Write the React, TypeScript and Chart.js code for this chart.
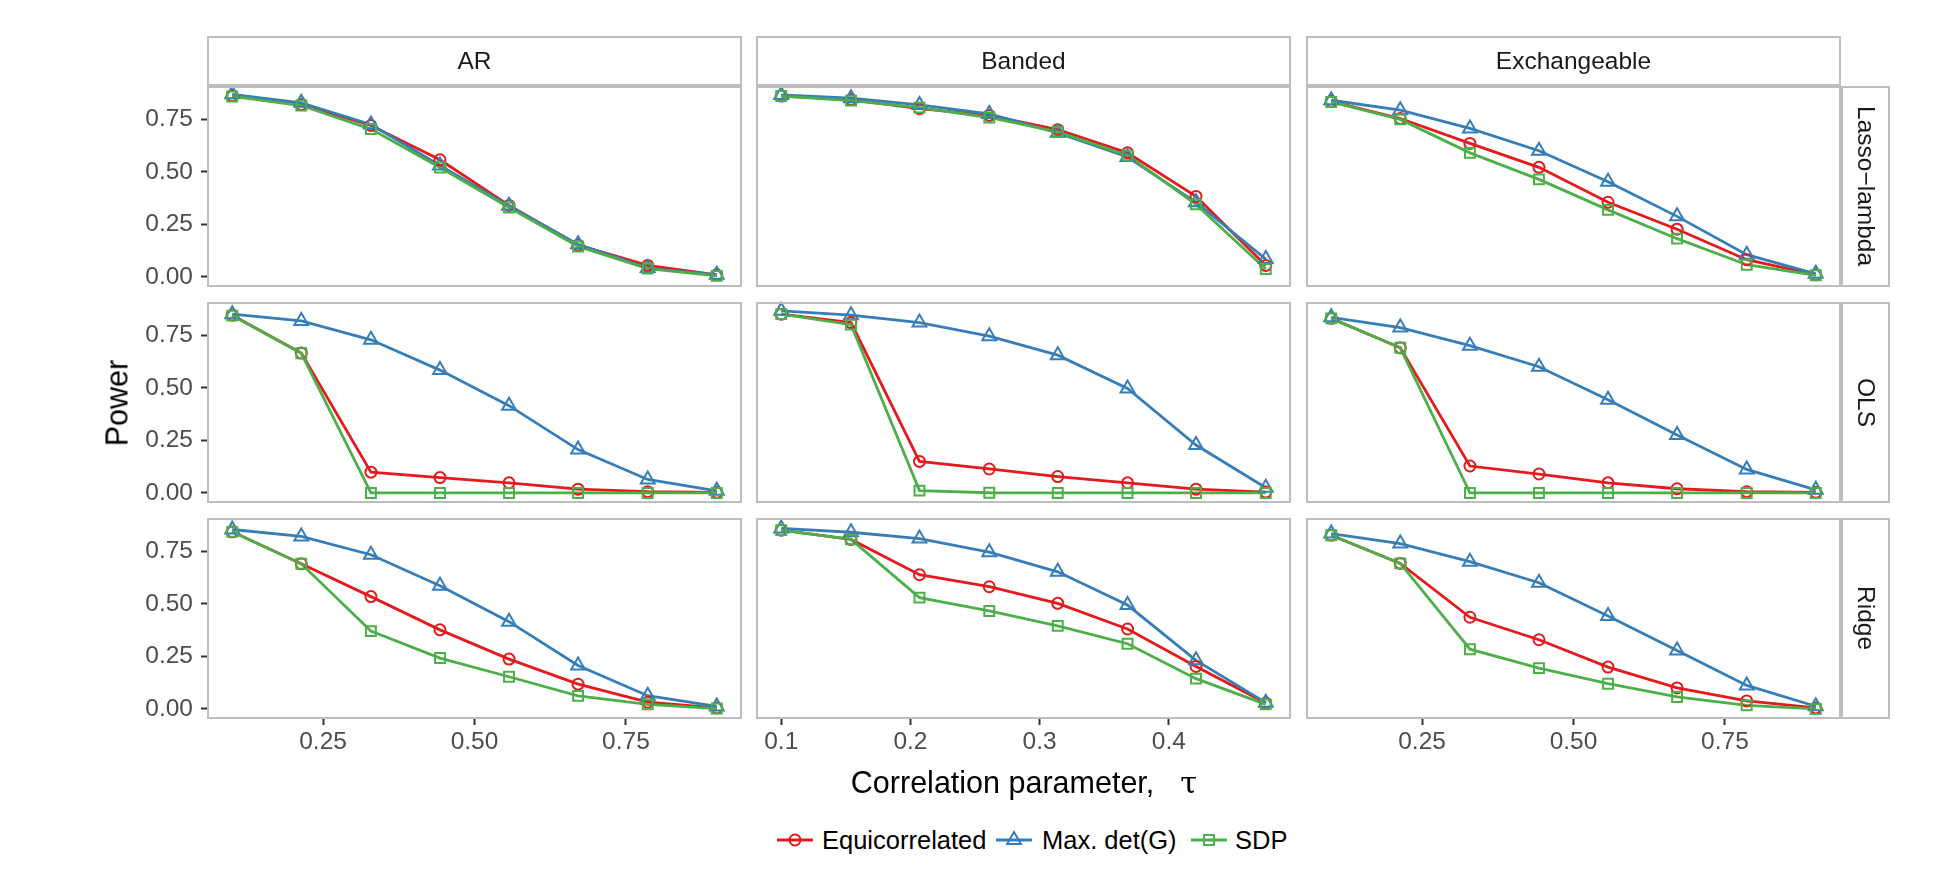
import React, { useEffect, useRef } from "react";
import { Chart, registerables } from "chart.js";
Chart.register(...registerables);

// ---------- data ----------
const tauGrid = [0.1, 0.214, 0.329, 0.443, 0.557, 0.671, 0.786, 0.9];
const tauBanded = [0.1, 0.154, 0.207, 0.261, 0.314, 0.368, 0.421, 0.475];
const gridTicks = [0.25, 0.5, 0.75];
const bandedTicks = [0.1, 0.2, 0.3, 0.4];
const powerTicks = [0, 0.25, 0.5, 0.75];

const structures = ["AR", "Banded", "Exchangeable"];
const methods = ["Lasso\u2212lambda", "OLS", "Ridge"];
const seriesNames = ["Equicorrelated", "Max. det(G)", "SDP"];

// Lasso-lambda
const lassoAR_equi = [0.862, 0.82, 0.72, 0.557, 0.34, 0.152, 0.055, 0.01];
const lassoAR_maxdet = [0.868, 0.828, 0.725, 0.53, 0.338, 0.155, 0.042, 0.01];
const lassoAR_sdp = [0.858, 0.815, 0.703, 0.52, 0.33, 0.145, 0.04, 0.005];
const lassoBanded_equi = [0.86, 0.843, 0.8, 0.768, 0.7, 0.59, 0.383, 0.055];
const lassoBanded_maxdet = [0.865, 0.85, 0.818, 0.775, 0.685, 0.57, 0.355, 0.085];
const lassoBanded_sdp = [0.86, 0.838, 0.805, 0.758, 0.69, 0.578, 0.345, 0.038];
const lassoExch_equi = [0.835, 0.753, 0.635, 0.521, 0.355, 0.227, 0.082, 0.01];
const lassoExch_maxdet = [0.84, 0.793, 0.706, 0.6, 0.453, 0.288, 0.106, 0.015];
const lassoExch_sdp = [0.832, 0.749, 0.59, 0.464, 0.319, 0.182, 0.058, 0.008];

// OLS
const olsAR_equi = [0.845, 0.665, 0.099, 0.073, 0.048, 0.018, 0.006, 0.003];
const olsAR_maxdet = [0.85, 0.818, 0.728, 0.584, 0.415, 0.206, 0.064, 0.01];
const olsAR_sdp = [0.843, 0.664, 0, 0, 0, 0, 0, 0];
const olsBanded_equi = [0.85, 0.81, 0.15, 0.114, 0.078, 0.048, 0.018, 0.004];
const olsBanded_maxdet = [0.866, 0.845, 0.81, 0.745, 0.655, 0.497, 0.228, 0.025];
const olsBanded_sdp = [0.85, 0.8, 0.011, 0.001, 0, 0, 0, 0];
const olsExch_equi = [0.83, 0.69, 0.128, 0.09, 0.048, 0.02, 0.006, 0.003];
const olsExch_maxdet = [0.835, 0.786, 0.7, 0.6, 0.443, 0.276, 0.112, 0.015];
const olsExch_sdp = [0.83, 0.69, 0, 0, 0, 0, 0, 0];

// Ridge
const ridgeAR_equi = [0.842, 0.69, 0.534, 0.376, 0.237, 0.118, 0.032, 0.005];
const ridgeAR_maxdet = [0.853, 0.82, 0.733, 0.586, 0.415, 0.207, 0.063, 0.012];
const ridgeAR_sdp = [0.842, 0.69, 0.37, 0.242, 0.153, 0.062, 0.022, 0.002];
const ridgeBanded_equi = [0.85, 0.806, 0.638, 0.581, 0.502, 0.38, 0.202, 0.028];
const ridgeBanded_maxdet = [0.858, 0.84, 0.81, 0.745, 0.652, 0.494, 0.231, 0.03];
const ridgeBanded_sdp = [0.85, 0.806, 0.529, 0.466, 0.395, 0.31, 0.144, 0.022];
const ridgeExch_equi = [0.826, 0.692, 0.436, 0.329, 0.199, 0.1, 0.038, 0.005];
const ridgeExch_maxdet = [0.834, 0.786, 0.7, 0.6, 0.442, 0.278, 0.112, 0.013];
const ridgeExch_sdp = [0.826, 0.692, 0.284, 0.194, 0.12, 0.057, 0.017, 0.0];

const panelSeries = [
  [
    [lassoAR_equi, lassoAR_maxdet, lassoAR_sdp],
    [lassoBanded_equi, lassoBanded_maxdet, lassoBanded_sdp],
    [lassoExch_equi, lassoExch_maxdet, lassoExch_sdp],
  ],
  [
    [olsAR_equi, olsAR_maxdet, olsAR_sdp],
    [olsBanded_equi, olsBanded_maxdet, olsBanded_sdp],
    [olsExch_equi, olsExch_maxdet, olsExch_sdp],
  ],
  [
    [ridgeAR_equi, ridgeAR_maxdet, ridgeAR_sdp],
    [ridgeBanded_equi, ridgeBanded_maxdet, ridgeBanded_sdp],
    [ridgeExch_equi, ridgeExch_maxdet, ridgeExch_sdp],
  ],
];

// ---------- styling / layout ----------
const FONT = '"Liberation Sans", Arial, Helvetica, sans-serif';
const COLORS = ["#E41A1C", "#377EB8", "#4DAF4A"];
const STYLES = ["circle", "triangle", "rect"];
const RADII = [5.5, 8, 7];
const LINE_W = 2.8;
const BORDER = "#BEBEBE";

const PANEL_LEFT = [208, 757, 1307];
const PANEL_W = 533;
const PANEL_TOP = [87, 303, 519];
const PANEL_H = 199;
const Y_AXIS_W = 96;
const X_AXIS_H = 46;
const PAD = 16;
const Y_MIN = -0.043;
const Y_MAX = 0.903;

const LEGEND_KEY_X = [777, 996, 1191];
const LEGEND_TEXT_X = [822, 1042, 1235];
const LEGEND_Y = 840;

const borderPlugin = {
  id: "panelBorder",
  afterDraw(chart: any) {
    const { ctx, chartArea: a } = chart;
    ctx.save();
    ctx.strokeStyle = BORDER;
    ctx.lineWidth = 2;
    ctx.strokeRect(a.left, a.top, a.right - a.left, a.bottom - a.top);
    ctx.restore();
  },
};

function Panel({ row, col }: { row: number; col: number }) {
  const ref = useRef<HTMLCanvasElement | null>(null);
  const hasY = col === 0;
  const hasX = row === 2;
  const left = PANEL_LEFT[col] - PAD - (hasY ? Y_AXIS_W : 0);
  const top = PANEL_TOP[row] - PAD;
  const width = PAD + (hasY ? Y_AXIS_W : 0) + PANEL_W + PAD;
  const height = PAD + PANEL_H + (hasX ? X_AXIS_H : 0) + PAD;

  useEffect(() => {
    if (!ref.current) return;
    const banded = col === 1;
    const xs = banded ? tauBanded : tauGrid;
    const xTicks = banded ? bandedTicks : gridTicks;
    const xMin = banded ? 0.08125 : 0.06;
    const xMax = banded ? 0.49375 : 0.94;
    const dec = banded ? 1 : 2;
    const series = panelSeries[row][col];

    const datasets: any[] = [];
    series.forEach((ys, s) => {
      const data = xs.map((x, i) => ({ x, y: ys[i] }));
      datasets.push({
        label: seriesNames[s] + " line",
        data,
        showLine: true,
        borderColor: COLORS[s],
        borderWidth: LINE_W,
        pointRadius: 0,
        fill: false,
        clip: false,
        order: 5 - s,
      });
      datasets.push({
        label: seriesNames[s],
        data,
        showLine: false,
        pointStyle: STYLES[s],
        pointRadius: RADII[s],
        pointBorderColor: COLORS[s],
        pointBackgroundColor: "rgba(0,0,0,0)",
        pointBorderWidth: 2,
        clip: false,
        order: 2 - s,
      });
    });

    const tickFont = { family: FONT, size: 24.5 };
    const chart = new Chart(ref.current, {
      type: "line",
      data: { datasets },
      plugins: [borderPlugin],
      options: {
        responsive: false,
        animation: false,
        events: [],
        layout: { padding: PAD },
        plugins: { legend: { display: false }, tooltip: { enabled: false } },
        scales: {
          x: {
            type: "linear",
            display: hasX,
            min: xMin,
            max: xMax,
            afterBuildTicks: (s: any) => {
              s.ticks = xTicks.map((v) => ({ value: v }));
            },
            afterFit: (s: any) => {
              if (hasX) s.height = X_AXIS_H;
              s.paddingLeft = 0;
              s.paddingRight = 0;
            },
            ticks: {
              callback: (v: any) => Number(v).toFixed(dec),
              color: "#4D4D4D",
              font: tickFont,
              padding: 3,
              maxRotation: 0,
              autoSkip: false,
            },
            grid: {
              drawOnChartArea: false,
              drawTicks: true,
              tickLength: 7,
              tickColor: "#333333",
              tickWidth: 2,
            },
            border: { display: false },
          },
          y: {
            type: "linear",
            display: hasY,
            min: Y_MIN,
            max: Y_MAX,
            afterBuildTicks: (s: any) => {
              s.ticks = powerTicks.map((v) => ({ value: v }));
            },
            afterFit: (s: any) => {
              if (hasY) s.width = Y_AXIS_W;
              s.paddingTop = 0;
              s.paddingBottom = 0;
            },
            ticks: {
              callback: (v: any) => Number(v).toFixed(2),
              color: "#4D4D4D",
              font: tickFont,
              padding: 8,
              autoSkip: false,
            },
            grid: {
              drawOnChartArea: false,
              drawTicks: true,
              tickLength: 7,
              tickColor: "#333333",
              tickWidth: 2,
            },
            border: { display: false },
          },
        },
      } as any,
    });
    return () => chart.destroy();
  }, [row, col]);

  return (
    <canvas
      ref={ref}
      width={width}
      height={height}
      style={{ position: "absolute", left, top, width, height }}
    />
  );
}

function LegendKey({ s }: { s: number }) {
  const c = COLORS[s];
  let marker: any;
  if (s === 0) marker = <circle cx={18} cy={12} r={5.5} fill="none" stroke={c} strokeWidth={2} />;
  else if (s === 1)
    marker = (
      <polygon
        points={`18,${12 - 8} ${18 + 6.93},${12 + 4} ${18 - 6.93},${12 + 4}`}
        fill="none"
        stroke={c}
        strokeWidth={2}
      />
    );
  else marker = <rect x={13} y={7} width={10} height={10} fill="none" stroke={c} strokeWidth={2} />;
  return (
    <svg width={36} height={24} style={{ display: "block" }}>
      <line x1={0} y1={12} x2={36} y2={12} stroke={c} strokeWidth={LINE_W} />
      {marker}
    </svg>
  );
}

export default function App() {
  useEffect(() => {
    document.body.style.margin = "0";
  }, []);

  const panels: any[] = [];
  for (let r = 0; r < 3; r++) for (let c = 0; c < 3; c++) panels.push(<Panel key={`p${r}${c}`} row={r} col={c} />);

  return (
    <div
      style={{
        position: "relative",
        width: 1960,
        height: 891,
        background: "#fff",
        overflow: "hidden",
        fontFamily: FONT,
      }}
    >
      {panels}
      {structures.map((name, c) => (
        <div
          key={name}
          style={{
            position: "absolute",
            left: PANEL_LEFT[c] - 1,
            top: 36.3,
            width: PANEL_W + 2,
            height: 50,
            boxSizing: "border-box",
            border: `2px solid ${BORDER}`,
            display: "flex",
            alignItems: "center",
            justifyContent: "center",
            fontSize: 24.5,
            color: "#1A1A1A",
          }}
        >
          {name}
        </div>
      ))}
      {methods.map((name, r) => (
        <div
          key={name}
          style={{
            position: "absolute",
            left: 1841,
            top: PANEL_TOP[r] - 1,
            width: 49,
            height: PANEL_H + 2,
            boxSizing: "border-box",
            border: `2px solid ${BORDER}`,
            display: "flex",
            alignItems: "center",
            justifyContent: "center",
            fontSize: 24.5,
            color: "#1A1A1A",
          }}
        >
          <span style={{ writingMode: "vertical-rl", whiteSpace: "nowrap" }}>{name}</span>
        </div>
      ))}
      <div
        style={{
          position: "absolute",
          left: 117,
          top: 402.5,
          transform: "translate(-50%, -50%) rotate(-90deg)",
          fontSize: 30.5,
          color: "#000",
          whiteSpace: "nowrap",
        }}
      >
        Power
      </div>
      <div
        style={{
          position: "absolute",
          left: 1024,
          top: 782,
          transform: "translate(-50%, -50%)",
          fontSize: 30.5,
          color: "#000",
          whiteSpace: "nowrap",
          display: "flex",
          alignItems: "baseline",
        }}
      >
        <span>Correlation parameter,</span>
        <span style={{ fontFamily: '"DejaVu Serif", "Liberation Serif", serif', marginLeft: 26 }}>τ</span>
      </div>
      {seriesNames.map((n, s) => (
        <React.Fragment key={n}>
          <div
            style={{
              position: "absolute",
              left: LEGEND_KEY_X[s],
              top: LEGEND_Y,
              transform: "translateY(-50%)",
            }}
          >
            <LegendKey s={s} />
          </div>
          <div
            style={{
              position: "absolute",
              left: LEGEND_TEXT_X[s],
              top: LEGEND_Y,
              transform: "translateY(-50%)",
              fontSize: 25.5,
              color: "#000",
              whiteSpace: "nowrap",
            }}
          >
            {n}
          </div>
        </React.Fragment>
      ))}
    </div>
  );
}
